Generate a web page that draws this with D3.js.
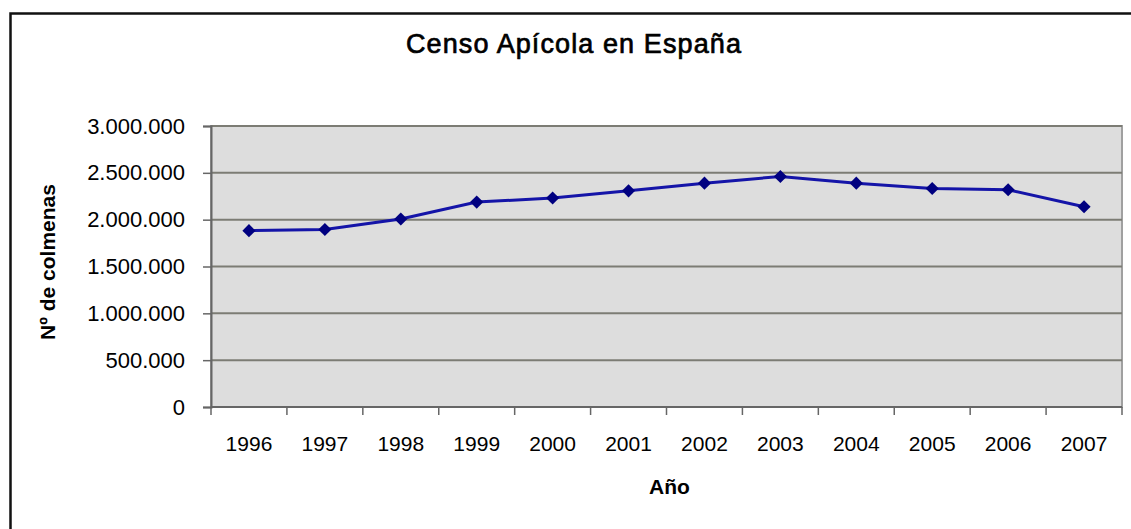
<!DOCTYPE html>
<html>
<head>
<meta charset="utf-8">
<script src="https://cdn.jsdelivr.net/npm/d3@7"></script>
<style>
  html, body { margin: 0; padding: 0; background: #fff; }
  text { font-family: Arial, "Liberation Sans", sans-serif; fill: #000; }
</style>
</head>
<body>
<div id="chart"></div>
<script>
var years = ['1996','1997','1998','1999','2000','2001','2002','2003','2004','2005','2006','2007'];
var colmenas = [1883000, 1895000, 2007000, 2188000, 2231000, 2308000, 2390000, 2461000, 2390000, 2333000, 2319000, 2138000];
var yTicks = [0, 500000, 1000000, 1500000, 2000000, 2500000, 3000000];

var width = 1131, height = 529;
var plot = {left: 211, right: 1122, top: 126, bottom: 407};

var es = d3.formatLocale({decimal: ',', thousands: '.', grouping: [3], currency: ['', ' €']});
var fmt = es.format(',d');

var svg = d3.select('#chart')
  .append('svg')
  .attr('width', width)
  .attr('height', height);

// outer chart frame (only left and top are visible in the shot)
svg.append('path')
  .attr('d', 'M10.5,' + height + 'V13.5H' + width)
  .attr('fill', 'none')
  .attr('stroke', '#111')
  .attr('stroke-width', 2.5);

var x = d3.scaleBand()
  .domain(years)
  .range([plot.left, plot.right]);

var y = d3.scaleLinear()
  .domain([0, 3000000])
  .range([plot.bottom, plot.top]);

// plot area
svg.append('rect')
  .attr('x', plot.left)
  .attr('y', plot.top)
  .attr('width', plot.right - plot.left)
  .attr('height', plot.bottom - plot.top)
  .attr('fill', '#dddddd')
  .attr('stroke', '#a0a0a0')
  .attr('stroke-width', 2);

// gridlines
svg.selectAll('.grid')
  .data(yTicks.slice(1))
  .enter()
  .append('line')
  .classed('grid', true)
  .attr('x1', plot.left)
  .attr('x2', plot.right)
  .attr('y1', function(d){ return y(d) })
  .attr('y2', function(d){ return y(d) })
  .attr('stroke', '#7c7c74')
  .attr('stroke-width', 2);

// y axis
var yAxis = svg.append('g')
  .attr('transform', 'translate(' + plot.left + ',0)')
  .call(d3.axisLeft(y).tickValues(yTicks).tickFormat(fmt).tickSize(8).tickPadding(18));
yAxis.select('.domain').attr('stroke', '#666').attr('stroke-width', 2);
yAxis.selectAll('.tick line').attr('stroke', '#666').attr('stroke-width', 1.5);
yAxis.selectAll('.tick text')
  .attr('font-size', '22px')
  .attr('font-family', 'Arial, "Liberation Sans", sans-serif')
  .attr('fill', '#111');

// x axis: ticks sit between the categories
var xAxisG = svg.append('g');
xAxisG.append('line')
  .attr('x1', plot.left)
  .attr('x2', plot.right)
  .attr('y1', plot.bottom)
  .attr('y2', plot.bottom)
  .attr('stroke', '#666')
  .attr('stroke-width', 2);

var bounds = years.map(function(d){ return x(d) }).concat([x(years[years.length - 1]) + x.bandwidth()]);
xAxisG.selectAll('.xtick')
  .data(bounds)
  .enter()
  .append('line')
  .attr('x1', function(d){ return d })
  .attr('x2', function(d){ return d })
  .attr('y1', plot.bottom)
  .attr('y2', plot.bottom + 8)
  .attr('stroke', '#666')
  .attr('stroke-width', 1.5);

xAxisG.selectAll('.xlabel')
  .data(years)
  .enter()
  .append('text')
  .attr('x', function(d){ return x(d) + x.bandwidth() / 2 })
  .attr('y', 451)
  .attr('text-anchor', 'middle')
  .attr('font-size', '21px')
  .attr('fill', '#111')
  .text(function(d){ return d });

// series
var line = d3.line()
  .x(function(d, i){ return x(years[i]) + x.bandwidth() / 2 })
  .y(function(d){ return y(d) });

svg.append('path')
  .datum(colmenas)
  .attr('d', line)
  .attr('fill', 'none')
  .attr('stroke', '#1414a8')
  .attr('stroke-width', 3);

svg.selectAll('.marker')
  .data(colmenas)
  .enter()
  .append('path')
  .classed('marker', true)
  .attr('d', d3.symbol().type(d3.symbolDiamond2).size(110))
  .attr('transform', function(d, i){
    return 'translate(' + (x(years[i]) + x.bandwidth() / 2) + ',' + y(d) + ')';
  })
  .attr('fill', '#000080');

// titles
svg.append('text')
  .attr('x', 574)
  .attr('y', 53)
  .attr('text-anchor', 'middle')
  .attr('font-size', '27px')
  .attr('letter-spacing', '1.1px')
  .attr('stroke', '#000')
  .attr('stroke-width', 0.7)
  .text('Censo Apícola en España');

svg.append('text')
  .attr('x', (plot.left + plot.right) / 2 + 3)
  .attr('y', 494)
  .attr('text-anchor', 'middle')
  .attr('font-size', '21px')
  .attr('font-weight', 'bold')
  .text('Año');

svg.append('text')
  .attr('transform', 'translate(55,262) rotate(-90)')
  .attr('text-anchor', 'middle')
  .attr('font-size', '21px')
  .attr('font-weight', 'bold')
  .text('Nº de colmenas');
</script>
</body>
</html>
